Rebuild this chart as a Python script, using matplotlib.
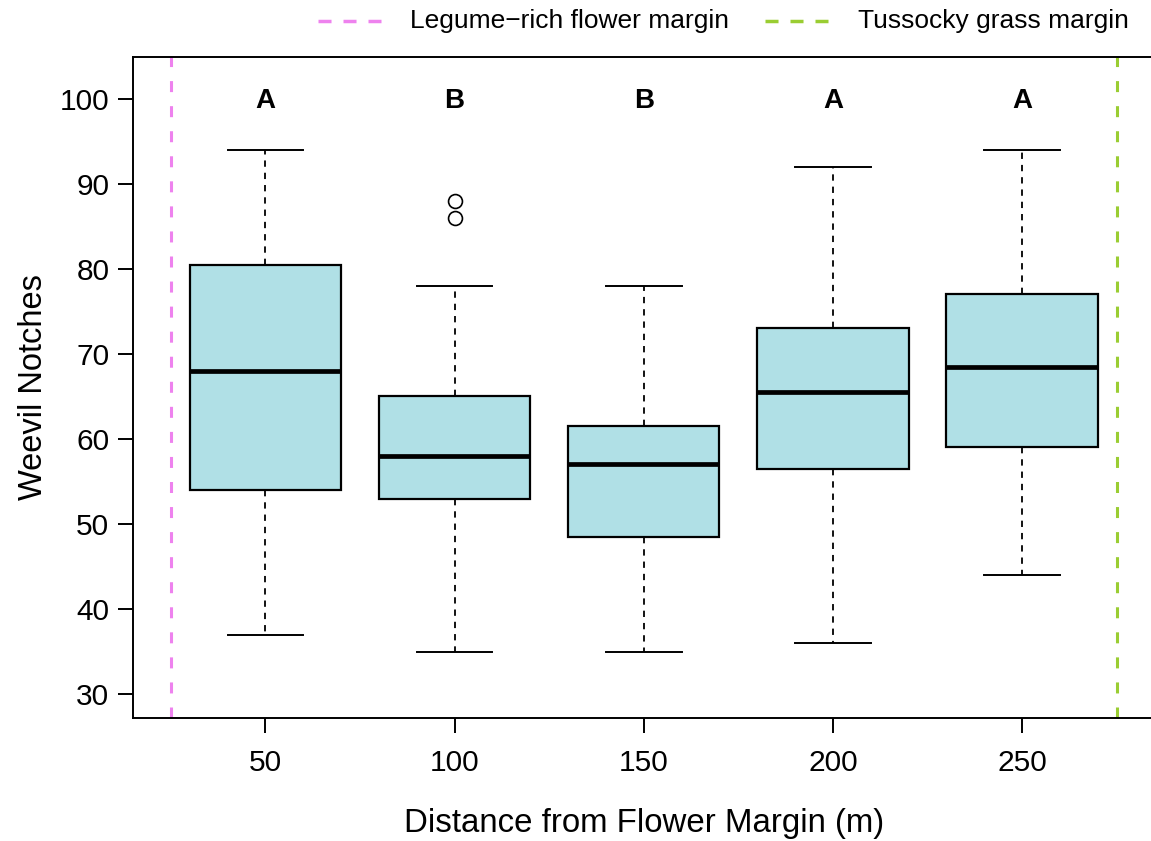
import numpy as np
import matplotlib.pyplot as plt

plt.rcParams['font.family'] = ['Liberation Sans', 'DejaVu Sans']

# data
distances = [50, 100, 150, 200, 250]
whisk_lo = [37, 35, 35, 36, 44]
q1 = [54, 53, 48.5, 56.5, 59]
medians = [68, 58, 57, 65.5, 68.5]
q3 = [80.5, 65, 61.5, 73, 77]
whisk_hi = [94, 78, 78, 92, 94]
outliers = [[], [88, 86], [], [], []]
letters = ['A', 'B', 'B', 'A', 'A']
flower_edge = 25
grass_edge = 275

stats = []
for i in range(len(distances)):
    stats.append(dict(whislo=whisk_lo[i], q1=q1[i], med=medians[i],
                      q3=q3[i], whishi=whisk_hi[i], fliers=outliers[i]))

fig = plt.figure(figsize=(11.51, 8.41), dpi=100)
ax = fig.add_axes([133/1151, 1-718/841, (1154.5-133)/1151, (718-57)/841])

ax.bxp(stats, positions=distances, widths=40, capwidths=20, patch_artist=True,
       boxprops=dict(facecolor='#B0E0E6', edgecolor='black', linewidth=1.6),
       medianprops=dict(color='black', linewidth=3.4, solid_capstyle='butt'),
       whiskerprops=dict(color='black', linewidth=1.3, linestyle=(0, (3.5, 3.3))),
       capprops=dict(color='black', linewidth=1.4),
       flierprops=dict(marker='o', markerfacecolor='none', markeredgecolor='black',
                       markersize=10, markeredgewidth=1.2))

dash = (0, (3.6, 4.6))
ax.axvline(flower_edge, color='#EE82EE', linewidth=2.2, linestyle=dash)
ax.axvline(grass_edge, color='#9ACD32', linewidth=2.2, linestyle=dash)

for x, lab in zip(distances, letters):
    ax.text(x, 99.75, lab, ha='center', va='center', fontsize=20, fontweight='bold')

ax.set_xlim(15, 285)
ax.set_ylim(27.2, 104.9)
ax.set_xticks(distances)
ax.set_xticklabels([str(d) for d in distances])
ax.set_yticks(np.arange(30, 101, 10))
ax.tick_params(axis='both', labelsize=21.5, length=11, width=1.4)
ax.tick_params(axis='x', pad=11)
ax.tick_params(axis='y', pad=6)
for s in ax.spines.values():
    s.set_linewidth(1.4)

ax.set_xlabel('Distance from Flower Margin (m)', fontsize=23.8)
ax.set_ylabel('Weevil Notches', fontsize=23.5)
ax.xaxis.set_label_coords(0.5, (718-808)/661)
ax.yaxis.set_label_coords((49-133)/1021.5, 0.5)

# legend above the plot
yl = 1 - 21/841
leg_dash = (0, (3.75, 3.45))
fig.lines.append(plt.Line2D([318/1151, 381/1151], [yl, yl], transform=fig.transFigure,
                            color='#EE82EE', linewidth=2.5, linestyle=leg_dash))
fig.text(410/1151, yl, 'Legume\u2212rich flower margin', fontsize=19, va='center')
fig.lines.append(plt.Line2D([765/1151, 828/1151], [yl, yl], transform=fig.transFigure,
                            color='#9ACD32', linewidth=2.5, linestyle=leg_dash))
fig.text(858/1151, yl, 'Tussocky grass margin', fontsize=19, va='center')

fig.savefig('out.png', dpi=100)
